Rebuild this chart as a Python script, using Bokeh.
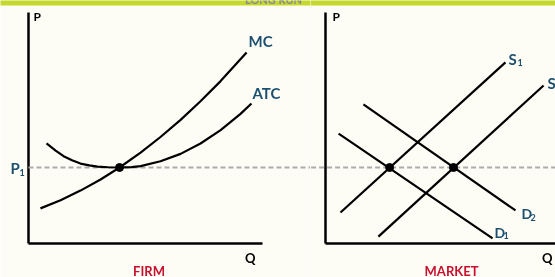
from bokeh.plotting import figure
from bokeh.layouts import row
from bokeh.models import Range1d
from bokeh.core.properties import value
from bokeh.embed import file_html
from bokeh.resources import INLINE

# ---------------- data (economic units: Q, P) ----------------
# FIRM panel
mc_q = [0.51, 1.37, 2.22, 3.08, 3.89, 4.79, 5.64, 6.50, 7.35, 8.21, 9.32]
mc_p = [1.52, 1.87, 2.29, 2.77, 3.29, 3.93, 4.61, 5.35, 6.16, 7.03, 8.27]
atc_q = [0.77, 1.16, 1.50, 1.86, 2.22, 2.60, 2.95, 3.40, 3.89, 4.40, 4.79,
         5.64, 6.50, 7.35, 8.21, 9.06, 9.53]
atc_p = [4.33, 4.02, 3.78, 3.60, 3.46, 3.38, 3.33, 3.30, 3.29, 3.31, 3.35,
         3.56, 3.88, 4.33, 4.91, 5.61, 6.06]
p1 = 3.29
firm_eq_q = [3.89]

# MARKET panel
s1_q = [0.64, 7.69]
s1_p = [1.34, 7.84]
s2_q = [2.26, 9.32]
s2_p = [0.30, 6.84]
d1_q = [0.56, 7.14]
d1_p = [4.76, 0.22]
d2_q = [1.62, 8.12]
d2_p = [6.02, 1.43]
market_eq_q = [2.74, 5.47]

axis_max = 10
banner_text = "LONG RUN"

# ---------------- layout / style ----------------
W1, W2, H = 310, 245, 277
SX, SY = 23.4, 23.1          # pixels per unit
ORG_Y = 243                  # pixel row of P = 0
FIRM_ORG_X = 28              # pixel column of Q = 0 in firm figure
MKT_ORG_X = 325 - W1         # pixel column of Q = 0 in market figure
BG = "#fdfdf5"
BLUE = "#1d5070"
RED = "#c8102e"
GREEN = "#c5d92d"
FONT = value("Lato")
BASE_CORR = 0.36             # baseline correction (fraction of font size)


def make_fig(w, org_x):
    p = figure(width=w, height=H, output_backend="svg", toolbar_location=None,
               x_range=Range1d(-org_x / SX, (w - org_x) / SX),
               y_range=Range1d(-(H - ORG_Y) / SY, ORG_Y / SY),
               x_axis_location=None, y_axis_location=None, min_border=0)
    p.grid.visible = False
    p.outline_line_color = None
    p.background_fill_color = BG
    p.border_fill_color = BG
    # banner strip at top
    p.quad(left=p.x_range.start - 1, right=p.x_range.end + 1,
           top=p.y_range.end + 1, bottom=(ORG_Y - 5) / SY,
           color=GREEN, line_color=None)
    # axes
    p.line([0, 0], [0, axis_max], line_color="black", line_width=2.5)
    p.line([0, axis_max], [0, 0], line_color="black", line_width=2.5)
    # P1 dashed line
    p.line([0 if org_x > 20 else p.x_range.start - 1, p.x_range.end + 1],
           [p1, p1], line_color="#ababab", line_width=2, line_dash="5 3")
    return p


def label(p, x, y, txt, dx, dy, size, color, align="left"):
    p.text([x], [y], text=[txt], x_offset=dx, y_offset=dy - BASE_CORR * size,
           text_font=FONT, text_font_style="bold", text_font_size=f"{size}px",
           text_color=color, text_align=align, text_baseline="alphabetic")


# ---------------- FIRM ----------------
f = make_fig(W1, FIRM_ORG_X)
f.line(mc_q, mc_p, line_color="black", line_width=2.2, line_join="round")
f.line(atc_q, atc_p, line_color="black", line_width=2.2, line_join="round")
f.scatter(firm_eq_q, [p1] * len(firm_eq_q), size=8, color="black")
label(f, mc_q[-1], mc_p[-1], "MC", 2, -6, 15, BLUE)
label(f, atc_q[-1], atc_p[-1], "ATC", 1, -5, 15, BLUE)
label(f, 0, p1, "P", -18, 5.5, 15, BLUE)
label(f, 0, p1, "1", -9, 8, 9, BLUE)
label(f, 0, axis_max, "P", 5, 8, 12, "black")
label(f, axis_max, 0, "Q", -7, 19, 13, "black", "right")
label(f, axis_max / 2, 0, "FIRM", 3.5, 32, 13, RED, "center")
label(f, (273 - FIRM_ORG_X) / SX, (ORG_Y - 3) / SY, banner_text, 0, 0, 11,
      "#8a8a8a", "center")

# ---------------- MARKET ----------------
m = make_fig(W2, MKT_ORG_X)
for qs, ps in [(s1_q, s1_p), (s2_q, s2_p), (d1_q, d1_p), (d2_q, d2_p)]:
    m.line(qs, ps, line_color="black", line_width=2.2)
m.scatter(market_eq_q, [p1] * len(market_eq_q), size=8, color="black")
label(m, s1_q[-1], s1_p[-1], "S", 3, 2, 15, BLUE)
label(m, s1_q[-1], s1_p[-1], "1", 12, 3.5, 9, BLUE)
label(m, s2_q[-1], s2_p[-1], "S", 4, 3, 15, BLUE)
label(m, s2_q[-1], s2_p[-1], "2", 13, 4.5, 9, BLUE)
label(m, d2_q[-1], d2_p[-1], "D", 6, 8, 14, BLUE)
label(m, d2_q[-1], d2_p[-1], "2", 15, 10, 9, BLUE)
label(m, d1_q[-1], d1_p[-1], "D", 2, -1, 14, BLUE)
label(m, d1_q[-1], d1_p[-1], "1", 11, 0, 9, BLUE)
label(m, 0, axis_max, "P", 7, 8, 12, "black")
label(m, axis_max, 0, "Q", -7, 19, 13, "black", "right")
label(m, axis_max / 2, 0, "MARKET", 9, 32, 13, RED, "center")

layout = row(f, m, styles={"position": "fixed", "left": "0px", "top": "0px"})

open("out.html", "w").write(file_html(layout, INLINE))
